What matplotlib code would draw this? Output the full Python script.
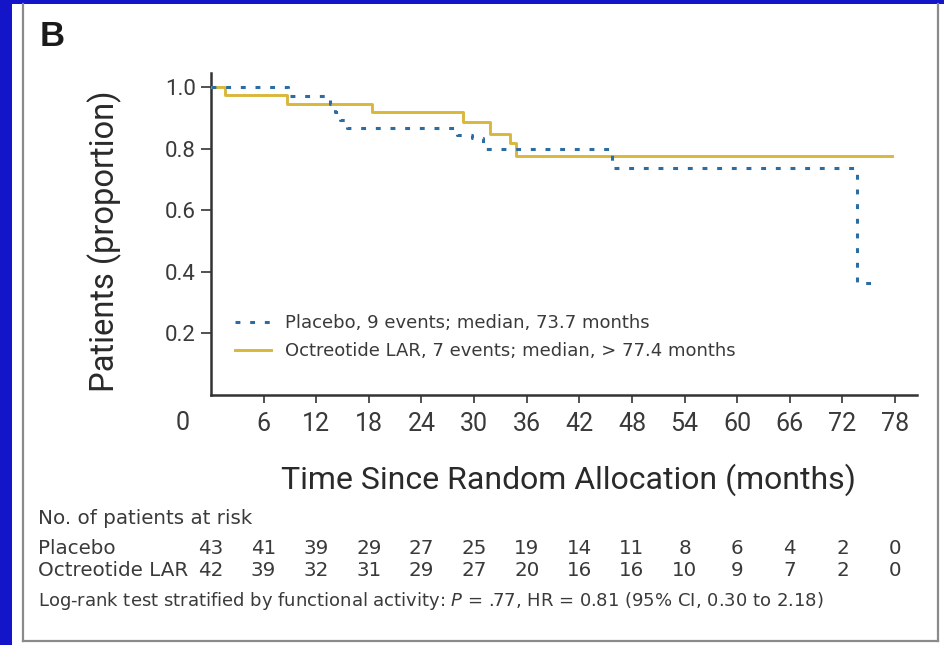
import matplotlib
matplotlib.use("Agg")
import matplotlib.pyplot as plt
from matplotlib.lines import Line2D
from matplotlib.patches import Rectangle
import matplotlib.transforms as mtransforms

# ---------------- data ----------------
placebo_t = [0, 8.8, 13.6, 14.1, 14.7, 15.5, 28.0, 29.8, 31.0, 45.7, 73.7, 75.5]
placebo_s = [1.0, 0.973, 0.945, 0.92, 0.893, 0.868, 0.845, 0.835, 0.80, 0.738, 0.364, 0.364]

octreo_t = [0, 1.6, 8.7, 18.4, 28.7, 31.8, 34.1, 34.8, 77.6]
octreo_s = [1.0, 0.975, 0.946, 0.92, 0.887, 0.848, 0.818, 0.777, 0.777]

x_ticks = [6, 12, 18, 24, 30, 36, 42, 48, 54, 60, 66, 72, 78]
y_ticks = [0.2, 0.4, 0.6, 0.8, 1.0]
risk_times = [0, 6, 12, 18, 24, 30, 36, 42, 48, 54, 60, 66, 72, 78]
risk_placebo = [43, 41, 39, 29, 27, 25, 19, 14, 11, 8, 6, 4, 2, 0]
risk_octreo = [42, 39, 32, 31, 29, 27, 20, 16, 16, 10, 9, 7, 2, 0]

label_placebo = "Placebo, 9 events; median, 73.7 months"
label_octreo = "Octreotide LAR, 7 events; median, > 77.4 months"
xlabel = "Time Since Random Allocation (months)"
ylabel = "Patients (proportion)"

# ---------------- layout ----------------
W, H = 944, 645
def fx(x):
    return x / W
def fy(y):
    return 1 - y / H

NARROW = ['Roboto', 'DejaVu Sans']
REG = ['DejaVu Sans']
TXT = '#3a3a3a'

fig = plt.figure(figsize=(W / 100, H / 100), dpi=100, facecolor='#1414C8')

# white panel
fig.patches.append(Rectangle((fx(12), 0), 1 - fx(12), fy(4), transform=fig.transFigure,
                             facecolor='white', edgecolor='none', zorder=0))
# gray frame
for (x0, y0, x1, y1) in [(23, 4, 23, 641), (23, 641, 938, 641), (938, 4, 938, 641)]:
    fig.lines.append(Line2D([fx(x0), fx(x1)], [fy(y0), fy(y1)], transform=fig.transFigure,
                            color='#8a8a8a', lw=1.6, zorder=1))

ax_left, ax_right = 211, 917
ax_top, ax_bottom = 72.7, 395
ax = fig.add_axes([fx(ax_left), fy(ax_bottom), fx(ax_right - ax_left), (ax_bottom - ax_top) / H])
ax.set_zorder(5)
ax.set_facecolor('none')
ax.set_xlim(0, 80.5)
ax.set_ylim(0, 1.048)

ax.step(octreo_t, octreo_s, where='post', color='#D9B73A', lw=2.1, label=label_octreo, zorder=3)
ax.step(placebo_t, placebo_s, where='post', color='#2B6CA3', lw=2.2, dashes=(1.6, 3.2),
        label=label_placebo, zorder=4)

for s in ['top', 'right']:
    ax.spines[s].set_visible(False)
for s in ['left', 'bottom']:
    ax.spines[s].set_linewidth(1.8)
    ax.spines[s].set_color('#333333')

ax.set_xticks(x_ticks)
ax.set_yticks(y_ticks)
ax.set_xticklabels([str(v) for v in x_ticks], fontfamily=NARROW, fontsize=18, color=TXT)
ax.set_yticklabels([f"{v:.1f}" for v in y_ticks], fontfamily=NARROW, fontsize=16, color=TXT)
ax.tick_params(axis='x', direction='out', length=6, width=1.2, color='#333333', pad=6)
ax.tick_params(axis='y', direction='out', length=7, width=1.2, color='#333333', pad=4)

# origin label
fig.text(fx(183), fy(423), "0", fontfamily=NARROW, fontsize=18, color=TXT, ha='center', va='center')

# legend
handles, labels = ax.get_legend_handles_labels()
order = [1, 0]
leg = ax.legend([handles[i] for i in order], [labels[i] for i in order], frameon=False,
                loc='upper left', bbox_to_anchor=(fx(235), fy(314)), bbox_transform=fig.transFigure,
                prop={'family': REG, 'size': 13}, handlelength=2.0, handletextpad=0.75,
                labelspacing=0.55, borderaxespad=0, borderpad=0)
for t in leg.get_texts():
    t.set_color(TXT)

# axis labels
fig.text(fx(568), fy(480), xlabel, fontfamily=NARROW, fontsize=23, color='#2a2a2a', ha='center', va='center')
fig.text(fx(105), fy(241), ylabel, fontfamily=NARROW, fontsize=23.5, color='#2a2a2a', ha='center',
         va='center', rotation=90)

# panel letter
fig.text(fx(40), fy(36), "B", fontfamily=['Liberation Sans', 'DejaVu Sans'], fontsize=25,
         fontweight='bold', color='#1a1a1a', ha='left', va='center')

# risk table
RS = 14.3
fig.text(fx(38), fy(519), "No. of patients at risk", fontfamily=REG, fontsize=RS, color=TXT,
         ha='left', va='center')
fig.text(fx(38), fy(548), "Placebo", fontfamily=REG, fontsize=RS, color=TXT, ha='left', va='center')
fig.text(fx(38), fy(571), "Octreotide LAR", fontfamily=REG, fontsize=RS, color=TXT, ha='left', va='center')
trans = mtransforms.blended_transform_factory(ax.transData, fig.transFigure)
for t, a, b in zip(risk_times, risk_placebo, risk_octreo):
    ax.text(t, fy(548), str(a), transform=trans, fontfamily=REG, fontsize=RS, color=TXT,
            ha='center', va='center', clip_on=False)
    ax.text(t, fy(571), str(b), transform=trans, fontfamily=REG, fontsize=RS, color=TXT,
            ha='center', va='center', clip_on=False)

fig.text(fx(38), fy(601),
         r"Log-rank test stratified by functional activity: $\it{P}$ = .77, HR = 0.81 (95% CI, 0.30 to 2.18)",
         fontfamily=REG, fontsize=13, color=TXT, ha='left', va='center')

fig.savefig("out.png", dpi=100, facecolor=fig.get_facecolor())
